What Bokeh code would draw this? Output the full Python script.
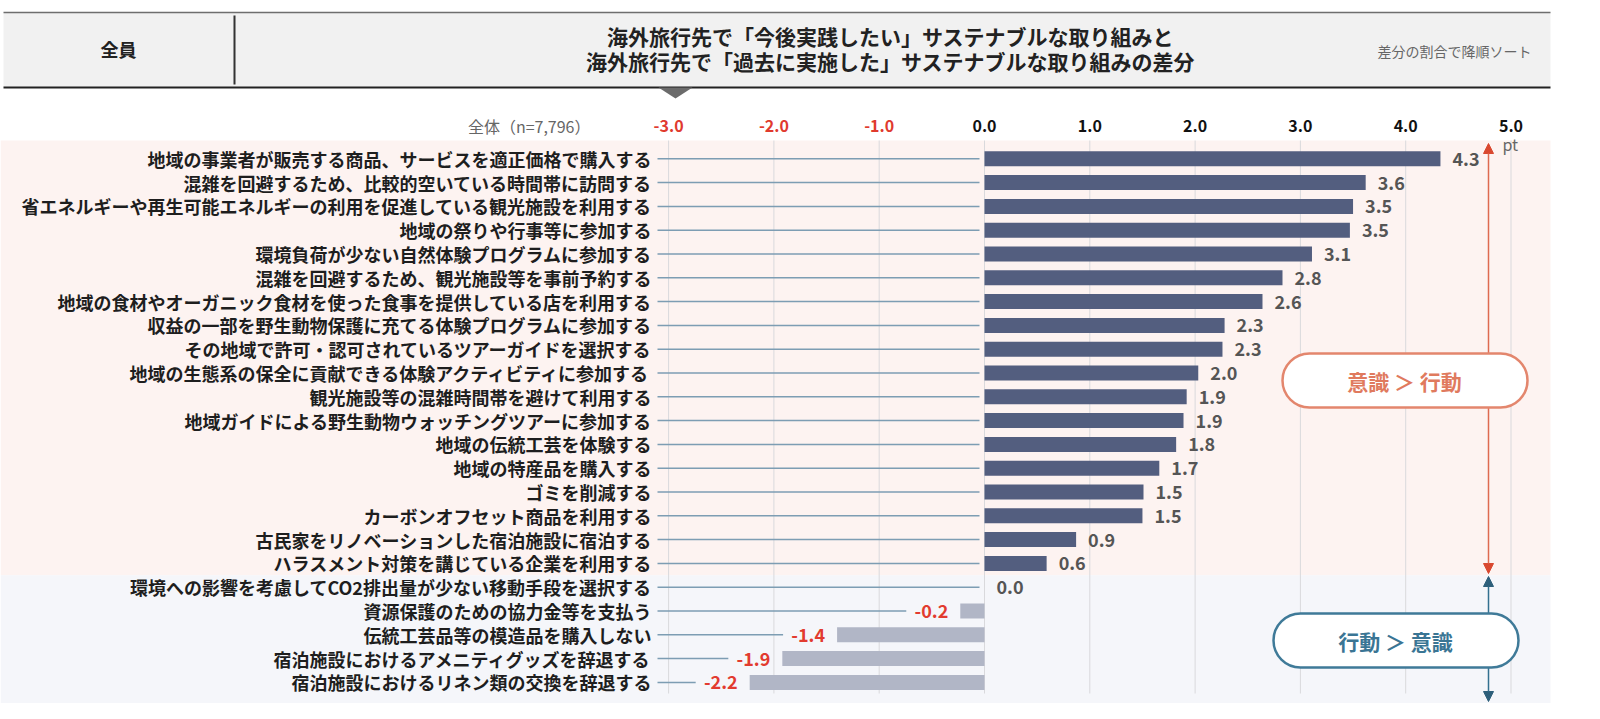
from bokeh.plotting import figure
from bokeh.models import Range1d, BoxAnnotation, Arrow, NormalHead, ColumnDataSource, Label
from bokeh.core.properties import value
from bokeh.embed import file_html
from bokeh.resources import INLINE

# ---------------- data ----------------
categories = [
    "地域の事業者が販売する商品、サービスを適正価格で購入する",
    "混雑を回避するため、比較的空いている時間帯に訪問する",
    "省エネルギーや再生可能エネルギーの利用を促進している観光施設を利用する",
    "地域の祭りや行事等に参加する",
    "環境負荷が少ない自然体験プログラムに参加する",
    "混雑を回避するため、観光施設等を事前予約する",
    "地域の食材やオーガニック食材を使った食事を提供している店を利用する",
    "収益の一部を野生動物保護に充てる体験プログラムに参加する",
    "その地域で許可・認可されているツアーガイドを選択する",
    "地域の生態系の保全に貢献できる体験アクティビティに参加する",
    "観光施設等の混雑時間帯を避けて利用する",
    "地域ガイドによる野生動物ウォッチングツアーに参加する",
    "地域の伝統工芸を体験する",
    "地域の特産品を購入する",
    "ゴミを削減する",
    "カーボンオフセット商品を利用する",
    "古民家をリノベーションした宿泊施設に宿泊する",
    "ハラスメント対策を講じている企業を利用する",
    "環境への影響を考慮してCO2排出量が少ない移動手段を選択する",
    "資源保護のための協力金等を支払う",
    "伝統工芸品等の模造品を購入しない",
    "宿泊施設におけるアメニティグッズを辞退する",
    "宿泊施設におけるリネン類の交換を辞退する",
]
values = [4.33, 3.62, 3.50, 3.47, 3.11, 2.83, 2.64, 2.28, 2.26, 2.03, 1.92, 1.89,
          1.82, 1.66, 1.51, 1.50, 0.87, 0.59, 0.0, -0.23, -1.40, -1.92, -2.23]
ticks = [-3, -2, -1, 0, 1, 2, 3, 4, 5]
tick_labels = ["-3.0", "-2.0", "-1.0", "0.0", "1.0", "2.0", "3.0", "4.0", "5.0"]
title_lines = ["海外旅行先で「今後実践したい」サステナブルな取り組みと",
               "海外旅行先で「過去に実施した」サステナブルな取り組みの差分"]
segment_label = "全員"
sort_note = "差分の割合で降順ソート"
base_note = "全体（n=7,796）"
unit_label = "pt"
zone_labels = ["意識 ＞ 行動", "行動 ＞ 意識"]

# ---------------- layout helpers (page pixels -> data) ----------------
W, H = 1584, 703
M = 0
PX0 = 984.0     # page x of value 0
PXU = 105.3     # pixels per unit
ROW0 = 158.3    # page y of first row
ROWH = 23.8     # row pitch


def X(px):
    return (px - PX0) / PXU


def Y(py):
    return (py - ROW0) / ROWH


def DX(px):
    return px / PXU


FONTNAME = "Noto Sans CJK JP"
FONT = value(FONTNAME)

p = figure(width=W, height=H, output_backend="svg", toolbar_location=None,
           x_axis_type=None, y_axis_type=None, min_border=0,
           x_range=Range1d(X(M), X(M + W)), y_range=Range1d(Y(M + H), Y(M)))
p.outline_line_color = None
p.background_fill_color = "white"
p.border_fill_color = "white"

# ---------------- header ----------------
p.quad(left=X(3), right=X(1550), top=Y(12), bottom=Y(87),
       fill_color="#f1f1f1", line_color=None)
p.segment(x0=X(3), x1=X(1550), y0=Y(12), y1=Y(12), line_color="#6e6e6e", line_width=1.5)
p.segment(x0=X(3), x1=X(1550), y0=Y(87), y1=Y(87), line_color="#222222", line_width=2)
p.segment(x0=X(234), x1=X(234), y0=Y(15), y1=Y(84), line_color="#333333", line_width=2)
p.text(x=[X(118)], y=[Y(48)], text=[segment_label], text_align="center",
       text_baseline="middle", text_font=FONT, text_font_size="18px",
       text_font_style="bold", text_color="#222222")
p.text(x=[X(890), X(890)], y=[Y(35), Y(60)], text=title_lines, text_align="center",
       text_baseline="middle", text_font=FONT, text_font_size="21px",
       text_font_style="bold", text_color="#222222")
p.text(x=[X(1531)], y=[Y(50)], text=[sort_note], text_align="right",
       text_baseline="middle", text_font=FONT, text_font_size="14px",
       text_color="#666666")
p.patch(x=[X(658), X(692), X(675)], y=[Y(87), Y(87), Y(98)],
        fill_color="#6b6b6b", line_color=None)

# ---------------- plot backgrounds ----------------
n = len(categories)
idx = list(range(n))
pos_rows = [i for i in idx if values[i] > 0]
neg_start = len(pos_rows)
p.quad(left=X(0), right=X(1550), top=Y(140), bottom=neg_start - 0.5,
       fill_color="#fdf3f1", line_color=None)
p.quad(left=X(0), right=X(1550), top=neg_start - 0.5, bottom=Y(703),
       fill_color="#f5f6fa", line_color=None)

# grid lines
p.segment(x0=ticks, x1=ticks, y0=[Y(140)] * len(ticks), y1=[Y(693)] * len(ticks),
          line_color="#d9d9dc", line_width=1)

# tick labels
tick_colors = ["#e03a2e" if t < 0 else "#111111" for t in ticks]
p.text(x=ticks, y=[Y(125)] * len(ticks), text=tick_labels, text_color=tick_colors,
       text_align="center", text_baseline="middle", text_font=FONT,
       text_font_size="16px", text_font_style="bold")
p.text(x=[X(590)], y=[Y(125)], text=[base_note], text_align="right",
       text_baseline="middle", text_font=FONT, text_font_size="16px",
       text_color="#666666")
p.text(x=[X(1502)], y=[Y(143)], text=[unit_label], text_align="left",
       text_baseline="middle", text_font=FONT, text_font_size="16px",
       text_color="#666666")

# ---------------- leader lines ----------------
lead_x0 = [X(657)] * n
lead_x1 = [(-DX(5) if v >= 0 else v - DX(54)) for v in values]
p.segment(x0=lead_x0, x1=lead_x1, y0=idx, y1=idx, line_color="#7d9db3", line_width=1.5)

# ---------------- bars ----------------
bar_colors = ["#535e7f" if v > 0 else "#b1b6c6" for v in values]
src = ColumnDataSource(dict(y=idx, right=values, color=bar_colors))
p.hbar(y="y", left=0, right="right", height=15 / ROWH, fill_color="color",
       line_color=None, source=src)

# category labels
p.text(x=[X(651)] * n, y=idx, text=categories, text_align="right",
       text_baseline="middle", text_font=FONT, text_font_size="18px",
       text_font_style="bold", text_color="#1e1e1e")

# value labels
pos_i = [i for i in idx if values[i] >= 0]
neg_i = [i for i in idx if values[i] < 0]
p.text(x=[values[i] + DX(12) for i in pos_i], y=pos_i,
       text=[f"{values[i]:.1f}" for i in pos_i], text_align="left",
       text_baseline="middle", text_font=FONT, text_font_size="18px",
       text_font_style="bold", text_color="#555555")
p.text(x=[values[i] - DX(12) for i in neg_i], y=neg_i,
       text=[f"{values[i]:.1f}" for i in neg_i], text_align="right",
       text_baseline="middle", text_font=FONT, text_font_size="18px",
       text_font_style="bold", text_color="#e23b2f")

# ---------------- zone arrows & badges ----------------
red = "#de6a50"
blue = "#33708f"
p.add_layout(Arrow(x_start=X(1488), x_end=X(1488), y_start=Y(573), y_end=Y(143),
                   line_color=red, line_width=1.5,
                   start=NormalHead(size=10, fill_color="#d9482f", line_color="#d9482f"),
                   end=NormalHead(size=10, fill_color="#d9482f", line_color="#d9482f")))
p.add_layout(Arrow(x_start=X(1488), x_end=X(1488), y_start=Y(701), y_end=Y(576),
                   line_color=blue, line_width=1.5,
                   start=NormalHead(size=10, fill_color="#2d5f7a", line_color="#2d5f7a"),
                   end=NormalHead(size=10, fill_color="#2d5f7a", line_color="#2d5f7a")))

p.add_layout(BoxAnnotation(left=X(1282), right=X(1527), top=Y(353), bottom=Y(407),
                           fill_color="white", fill_alpha=1.0, line_color="#e3866d",
                           line_alpha=1.0, line_width=2.5, border_radius=27))
p.add_layout(BoxAnnotation(left=X(1273), right=X(1518), top=Y(613), bottom=Y(667),
                           fill_color="white", fill_alpha=1.0, line_color="#3f7a98",
                           line_alpha=1.0, line_width=2.5, border_radius=27))

for (lx, ly), txt, col in zip([(1404, 380), (1395, 640)], zone_labels, ["#e07a5e", "#3a7594"]):
    p.add_layout(Label(x=X(lx), y=Y(ly), text=txt, text_color=col, text_align="center",
                       text_baseline="middle", text_font=FONTNAME, text_font_size="21px",
                       text_font_style="bold"))

open("out.html", "w").write(file_html(p, INLINE))
